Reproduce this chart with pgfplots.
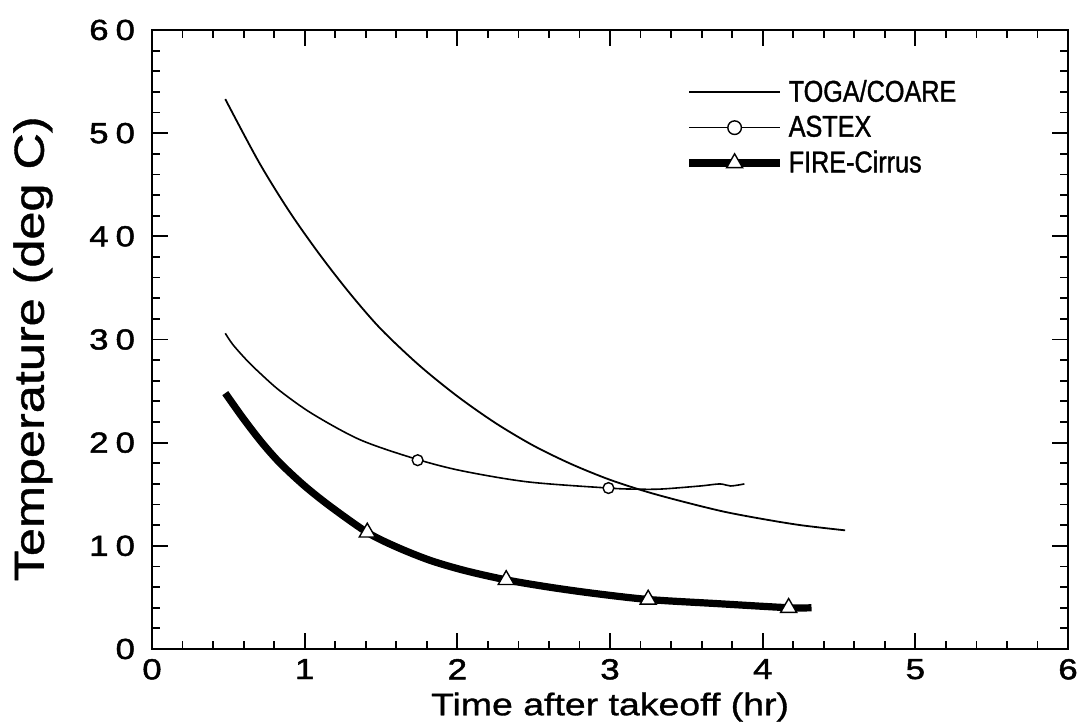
\documentclass[border=0pt]{standalone}
\usepackage{pgfplots}
\pgfplotsset{compat=1.18}
\usepackage{fontspec}
\setmainfont{Liberation Sans}
\newfontfamily\narrowfont[FakeStretch=0.84, FakeBold=1.2]{Liberation Sans}
\newfontfamily\widefont[FakeStretch=1.2, FakeBold=1.6]{Liberation Sans}
\newfontfamily\labelfont[FakeStretch=1.2, FakeBold=1.0]{Liberation Sans}
\pgfplotsset{
  plainleg/.style={legend image code/.code={\draw[##1] plot coordinates {(0pt,0pt) (45.5pt,0pt)};}},
  astexleg/.style={legend image code/.code={\draw[black, line width=0.8pt] (0pt,0pt) -- (45.5pt,0pt); \draw[##1, mark size=3.4pt] plot coordinates {(22.75pt,0pt)};}},
  fireleg/.style={legend image code/.code={\draw[black, line width=3.6pt] (0pt,0pt) -- (45.5pt,0pt); \draw[##1] plot coordinates {(22.75pt,0pt)};}},
}
\begin{document}
\begin{tikzpicture}
\begin{axis}[
  scale only axis, width=458pt, height=309.5pt,
  xmin=0, xmax=6, ymin=0, ymax=60,
  xtick={0,1,2,3,4,5,6}, ytick={0,10,20,30,40,50,60},
  yticklabels={0,1\hspace{3.5pt}0,2\hspace{3.5pt}0,3\hspace{3.5pt}0,4\hspace{3.5pt}0,5\hspace{3.5pt}0,6\hspace{3.5pt}0},
  minor x tick num=4, minor y tick num=4,
  tick align=inside, major tick length=8pt, minor tick length=4pt,
  every tick/.style={black, line width=0.9pt},
  axis line style={line width=1.1pt},
  /pgf/number format/assume math mode=true,
  xticklabel style={font=\widefont\fontsize{14.5}{16}\selectfont, yshift=-1.5pt},
  yticklabel style={font=\widefont\fontsize{14.5}{16}\selectfont, xshift=-5pt},
  every axis x label/.style={at={(axis description cs:0.5,-0.094)}, anchor=center, font=\labelfont\fontsize{15.6}{18}\selectfont},
  every axis y label/.style={at={(axis description cs:-0.13,0.485)}, rotate=90, anchor=center, font=\labelfont\fontsize{21}{24}\selectfont},
  xlabel={Time after takeoff (hr)},
  ylabel={Temperature (deg C)},
  legend style={draw=none, fill=none, at={(axis description cs:0.582,0.928)}, anchor=north west,
    inner sep=0pt, font=\narrowfont\fontsize{15}{16}\selectfont, row sep=0.5pt,
    nodes={inner sep=2.5pt}},
  legend cell align=left,
]
% TOGA/COARE
\addplot[black, line width=0.9pt, smooth, tension=0.5, plainleg] coordinates {
 (0.48,53.3) (0.7,47.2) (0.9,42.4) (1.1,38.2) (1.3,34.4) (1.5,31.0) (1.75,27.5) (2.0,24.5)
 (2.25,21.9) (2.5,19.7) (2.75,17.9) (3.0,16.4) (3.25,15.2) (3.5,14.2) (3.75,13.3) (4.0,12.6)
 (4.25,12.0) (4.54,11.5)};
\addlegendentry{TOGA/COARE}
% ASTEX line
\addplot[black, line width=0.8pt, smooth, tension=0.5, forget plot] coordinates {
 (0.48,30.6) (0.53,29.5) (0.62,28.0) (0.71,26.7) (0.84,25.0) (1.05,22.8) (1.36,20.3)
 (1.71,18.5) (2.02,17.3) (2.46,16.2) (2.99,15.6) (3.15,15.5) (3.33,15.5) (3.59,15.8)
 (3.72,16.0) (3.79,15.8) (3.88,16.0)};
\addplot[only marks, mark=*, mark size=2.7pt, mark options={fill=white, draw=black, line width=0.7pt}, astexleg]
  coordinates {(1.74,18.3) (2.99,15.6)};
\addlegendentry{ASTEX}
% FIRE-Cirrus line
\addplot[black, line width=3.6pt, smooth, tension=0.5, forget plot] coordinates {
 (0.48,24.8) (0.6,22.3) (0.72,20.0) (0.84,18.0) (1.0,15.8) (1.17,13.8) (1.41,11.3)
 (1.6,9.9) (1.82,8.6) (2.05,7.6) (2.32,6.7) (2.6,6.0) (2.89,5.4) (3.25,4.8) (3.7,4.4)
 (4.17,4.0) (4.32,4.0)};
\addplot[only marks, mark=triangle*, mark size=4.6pt, mark options={fill=white, draw=black, line width=0.7pt}, fireleg]
  coordinates {(1.41,11.3) (2.32,6.7) (3.25,4.8) (4.17,4.0)};
\addlegendentry{FIRE-Cirrus}
\end{axis}
\pgfresetboundingbox
\path[use as bounding box] ([shift={(-76pt,-39.5pt)}]current axis.south west) rectangle ([shift={(6.5pt,15pt)}]current axis.north east);
\end{tikzpicture}
\end{document}
